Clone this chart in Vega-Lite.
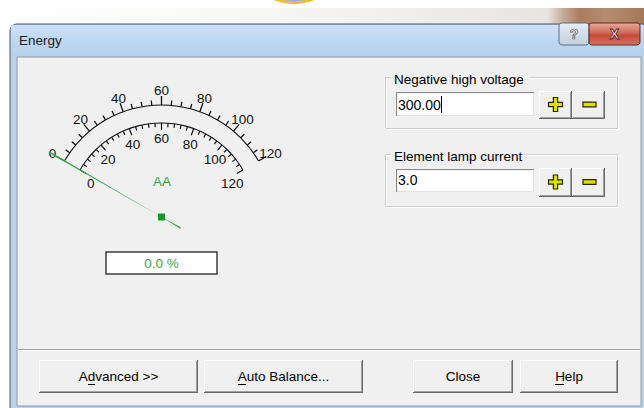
{
"$schema": "https://vega.github.io/schema/vega-lite/v6.json",
"width": 644, "height": 408, "padding": 0, "autosize": "none",
"background": "#ffffff",
"config": {"view": {"stroke": null}, "font": "Liberation Sans"},
"datasets": {
 "state": [{"value": 0, "reading": "0.0 %", "element": "AA", "voltage": "300.00", "lamp": "3.0"}],
 "outerScale": [{"v":0},{"v":5},{"v":10},{"v":15},{"v":20},{"v":25},{"v":30},{"v":35},{"v":40},{"v":45},{"v":50},{"v":55},{"v":60},{"v":65},{"v":70},{"v":75},{"v":80},{"v":85},{"v":90},{"v":95},{"v":100},{"v":105},{"v":110},{"v":115},{"v":120}],
 "innerScale": [{"v":0},{"v":4},{"v":8},{"v":12},{"v":16},{"v":20},{"v":24},{"v":28},{"v":32},{"v":36},{"v":40},{"v":44},{"v":48},{"v":52},{"v":56},{"v":60},{"v":64},{"v":68},{"v":72},{"v":76},{"v":80},{"v":84},{"v":88},{"v":92},{"v":96},{"v":100},{"v":104},{"v":108},{"v":112},{"v":116},{"v":120}]
},
"data": {"name": "state"},
"resolve": {"scale": {"theta": "independent"}},
"layer": [
 {"mark": {"type": "rect", "fill": {"gradient": "linear", "x1": 0, "y1": 0, "x2": 1, "y2": 0, "stops": [{"offset": 0, "color": "#ffffff"}, {"offset": 0.3, "color": "#fafaf9"}, {"offset": 0.6, "color": "#f1f0ee"}, {"offset": 0.85, "color": "#e8e4e0"}, {"offset": 0.875, "color": "#c4ab98"}, {"offset": 0.9, "color": "#a97d60"}, {"offset": 0.94, "color": "#b48c70"}, {"offset": 1, "color": "#a6785a"}]}},
  "encoding": {"x": {"datum": 0, "type": "quantitative", "scale": {"domain": [0,644], "nice": false, "zero": false}, "axis": null}, "x2": {"datum": 644},
   "y": {"datum": 8, "type": "quantitative", "scale": {"domain": [0,408], "nice": false, "zero": false, "reverse": true}, "axis": null}, "y2": {"datum": 24}}},
 {"mark": {"type": "point", "shape": "circle", "size": 9852, "filled": true, "fill": "#a5a6f3", "stroke": "#e7c13e", "strokeWidth": 3, "opacity": 1},
  "encoding": {"x": {"datum": 294, "type": "quantitative", "scale": {"domain": [0,644], "nice": false, "zero": false}, "axis": null},
   "y": {"datum": -47, "type": "quantitative", "scale": {"domain": [0,408], "nice": false, "zero": false, "reverse": true}, "axis": null}}},
 {"mark": {"type": "rect", "fill": "#b9d1ea", "stroke": "#47586b", "strokeWidth": 1, "cornerRadius": 7},
  "encoding": {"x": {"datum": 10, "type": "quantitative", "scale": {"domain": [0,644], "nice": false, "zero": false}, "axis": null}, "x2": {"datum": 660},
   "y": {"datum": 24, "type": "quantitative", "scale": {"domain": [0,408], "nice": false, "zero": false, "reverse": true}, "axis": null}, "y2": {"datum": 420}}},
 {"mark": {"type": "rect", "fill": {"gradient": "linear", "x1": 0, "y1": 0, "x2": 0, "y2": 1, "stops": [{"offset": 0, "color": "#cfe2f6"}, {"offset": 0.5, "color": "#bed6f0"}, {"offset": 1, "color": "#b7d0ec"}]}},
  "encoding": {"x": {"datum": 11, "type": "quantitative", "scale": {"domain": [0,644], "nice": false, "zero": false}, "axis": null}, "x2": {"datum": 643},
   "y": {"datum": 25, "type": "quantitative", "scale": {"domain": [0,408], "nice": false, "zero": false, "reverse": true}, "axis": null}, "y2": {"datum": 57}}},
 {"mark": {"type": "text", "text": "Energy", "align": "left", "baseline": "alphabetic", "fontSize": 13.5, "fill": "#1c1c1c"},
  "encoding": {"x": {"datum": 19, "type": "quantitative", "scale": {"domain": [0,644], "nice": false, "zero": false}, "axis": null},
   "y": {"datum": 45, "type": "quantitative", "scale": {"domain": [0,408], "nice": false, "zero": false, "reverse": true}, "axis": null}}},
 {"mark": {"type": "rect", "fill": {"gradient": "linear", "x1": 0, "y1": 0, "x2": 0, "y2": 1, "stops": [{"offset": 0, "color": "#e6edf5"}, {"offset": 1, "color": "#c2cfdd"}]}, "stroke": "#5c6f86", "strokeWidth": 1, "cornerRadius": 3},
  "encoding": {"x": {"datum": 559, "type": "quantitative", "scale": {"domain": [0,644], "nice": false, "zero": false}, "axis": null}, "x2": {"datum": 589},
   "y": {"datum": 23, "type": "quantitative", "scale": {"domain": [0,408], "nice": false, "zero": false, "reverse": true}, "axis": null}, "y2": {"datum": 45}}},
 {"mark": {"type": "text", "text": "?", "fontSize": 14, "fontWeight": "bold", "fill": "#f7f7f7", "stroke": "#4f5d6d", "strokeWidth": 0.7},
  "encoding": {"x": {"datum": 574, "type": "quantitative", "scale": {"domain": [0,644], "nice": false, "zero": false}, "axis": null},
   "y": {"datum": 35, "type": "quantitative", "scale": {"domain": [0,408], "nice": false, "zero": false, "reverse": true}, "axis": null}}},
 {"mark": {"type": "rect", "fill": {"gradient": "linear", "x1": 0, "y1": 0, "x2": 0, "y2": 1, "stops": [{"offset": 0, "color": "#eaa999"}, {"offset": 0.45, "color": "#d06a58"}, {"offset": 0.55, "color": "#c34a38"}, {"offset": 1, "color": "#d8705c"}]}, "stroke": "#5b2a24", "strokeWidth": 1, "cornerRadius": 3},
  "encoding": {"x": {"datum": 589, "type": "quantitative", "scale": {"domain": [0,644], "nice": false, "zero": false}, "axis": null}, "x2": {"datum": 640},
   "y": {"datum": 23, "type": "quantitative", "scale": {"domain": [0,408], "nice": false, "zero": false, "reverse": true}, "axis": null}, "y2": {"datum": 45}}},
 {"mark": {"type": "text", "text": "X", "fontSize": 14, "fontWeight": "bold", "fill": "#ffffff", "stroke": "#4a1e1e", "strokeWidth": 0.8},
  "encoding": {"x": {"datum": 614.5, "type": "quantitative", "scale": {"domain": [0,644], "nice": false, "zero": false}, "axis": null},
   "y": {"datum": 35, "type": "quantitative", "scale": {"domain": [0,408], "nice": false, "zero": false, "reverse": true}, "axis": null}}},
 {"mark": {"type": "rect", "fill": "#f0f0f0", "stroke": "#8f9aa6", "strokeWidth": 1},
  "encoding": {"x": {"datum": 17, "type": "quantitative", "scale": {"domain": [0,644], "nice": false, "zero": false}, "axis": null}, "x2": {"datum": 641},
   "y": {"datum": 57, "type": "quantitative", "scale": {"domain": [0,408], "nice": false, "zero": false, "reverse": true}, "axis": null}, "y2": {"datum": 406}}},
 {"mark": {"type": "rule", "stroke": "#a0a0a0", "strokeWidth": 1},
  "encoding": {"x": {"datum": 18, "type": "quantitative", "scale": {"domain": [0,644], "nice": false, "zero": false}, "axis": null}, "x2": {"datum": 640},
   "y": {"datum": 349.5, "type": "quantitative", "scale": {"domain": [0,408], "nice": false, "zero": false, "reverse": true}, "axis": null}}},
 {"mark": {"type": "rule", "stroke": "#ffffff", "strokeWidth": 1},
  "encoding": {"x": {"datum": 18, "type": "quantitative", "scale": {"domain": [0,644], "nice": false, "zero": false}, "axis": null}, "x2": {"datum": 640},
   "y": {"datum": 350.5, "type": "quantitative", "scale": {"domain": [0,408], "nice": false, "zero": false, "reverse": true}, "axis": null}}},

 {"mark": {"type": "arc", "innerRadius": 111.5, "outerRadius": 112.6, "fill": "#111111"},
  "encoding": {"x": {"datum": 161.5, "type": "quantitative", "scale": {"domain": [0,644], "nice": false, "zero": false}, "axis": null},
   "y": {"datum": 217, "type": "quantitative", "scale": {"domain": [0,408], "nice": false, "zero": false, "reverse": true}, "axis": null},
   "theta": {"datum": 0, "type": "quantitative", "scale": {"domain": [0,120], "range": [-1.0472, 1.0472]}}, "theta2": {"datum": 120}}},
 {"data": {"name": "outerScale"}, "transform": [{"filter": "datum.v % 20 === 0"}],
  "mark": {"type": "arc", "innerRadius": 112, "outerRadius": 121, "thetaOffset": -0.0055, "theta2Offset": 0.0055, "fill": "#111111"},
  "encoding": {"x": {"datum": 161.5, "type": "quantitative", "scale": {"domain": [0,644], "nice": false, "zero": false}, "axis": null},
   "y": {"datum": 217, "type": "quantitative", "scale": {"domain": [0,408], "nice": false, "zero": false, "reverse": true}, "axis": null},
   "theta": {"field": "v", "type": "quantitative", "stack": null, "scale": {"domain": [0,120], "range": [-1.0472, 1.0472]}}, "theta2": {"field": "v"}}},
 {"data": {"name": "outerScale"}, "transform": [{"filter": "datum.v % 20 !== 0"}],
  "mark": {"type": "arc", "innerRadius": 112, "outerRadius": 117, "thetaOffset": -0.0055, "theta2Offset": 0.0055, "fill": "#111111"},
  "encoding": {"x": {"datum": 161.5, "type": "quantitative", "scale": {"domain": [0,644], "nice": false, "zero": false}, "axis": null},
   "y": {"datum": 217, "type": "quantitative", "scale": {"domain": [0,408], "nice": false, "zero": false, "reverse": true}, "axis": null},
   "theta": {"field": "v", "type": "quantitative", "stack": null, "scale": {"domain": [0,120], "range": [-1.0472, 1.0472]}}, "theta2": {"field": "v"}}},
 {"mark": {"type": "arc", "innerRadius": 93.5, "outerRadius": 94.6, "fill": "#111111"},
  "encoding": {"x": {"datum": 161.5, "type": "quantitative", "scale": {"domain": [0,644], "nice": false, "zero": false}, "axis": null},
   "y": {"datum": 217, "type": "quantitative", "scale": {"domain": [0,408], "nice": false, "zero": false, "reverse": true}, "axis": null},
   "theta": {"datum": 0, "type": "quantitative", "scale": {"domain": [0,120], "range": [-1.0472, 1.0472]}}, "theta2": {"datum": 120}}},
 {"data": {"name": "innerScale"}, "transform": [{"filter": "datum.v % 20 === 0"}],
  "mark": {"type": "arc", "innerRadius": 87, "outerRadius": 94, "thetaOffset": -0.0065, "theta2Offset": 0.0065, "fill": "#111111"},
  "encoding": {"x": {"datum": 161.5, "type": "quantitative", "scale": {"domain": [0,644], "nice": false, "zero": false}, "axis": null},
   "y": {"datum": 217, "type": "quantitative", "scale": {"domain": [0,408], "nice": false, "zero": false, "reverse": true}, "axis": null},
   "theta": {"field": "v", "type": "quantitative", "stack": null, "scale": {"domain": [0,120], "range": [-1.0472, 1.0472]}}, "theta2": {"field": "v"}}},
 {"data": {"name": "innerScale"}, "transform": [{"filter": "datum.v % 20 !== 0"}],
  "mark": {"type": "arc", "innerRadius": 90, "outerRadius": 94, "thetaOffset": -0.0065, "theta2Offset": 0.0065, "fill": "#111111"},
  "encoding": {"x": {"datum": 161.5, "type": "quantitative", "scale": {"domain": [0,644], "nice": false, "zero": false}, "axis": null},
   "y": {"datum": 217, "type": "quantitative", "scale": {"domain": [0,408], "nice": false, "zero": false, "reverse": true}, "axis": null},
   "theta": {"field": "v", "type": "quantitative", "stack": null, "scale": {"domain": [0,120], "range": [-1.0472, 1.0472]}}, "theta2": {"field": "v"}}},
 {"data": {"name": "outerScale"}, "transform": [{"filter": "datum.v % 20 === 0"}],
  "mark": {"type": "text", "radius": 126, "fontSize": 13.5, "fill": "#111111", "align": "center", "baseline": "middle"},
  "encoding": {"x": {"datum": 161.5, "type": "quantitative", "scale": {"domain": [0,644], "nice": false, "zero": false}, "axis": null},
   "y": {"datum": 217, "type": "quantitative", "scale": {"domain": [0,408], "nice": false, "zero": false, "reverse": true}, "axis": null},
   "theta": {"field": "v", "type": "quantitative", "stack": null, "scale": {"domain": [0,120], "range": [-1.0472, 1.0472]}},
   "text": {"field": "v", "type": "quantitative"}}},
 {"data": {"name": "innerScale"}, "transform": [{"filter": "datum.v % 20 === 0"}],
  "mark": {"type": "text", "radius": 78, "fontSize": 13.5, "fill": "#111111", "align": "center", "baseline": "middle"},
  "encoding": {"x": {"datum": 161.5, "type": "quantitative", "scale": {"domain": [0,644], "nice": false, "zero": false}, "axis": null},
   "y": {"datum": 217, "type": "quantitative", "scale": {"domain": [0,408], "nice": false, "zero": false, "reverse": true}, "axis": null},
   "theta": {"field": "v", "type": "quantitative", "stack": null, "scale": {"domain": [0,120], "range": [-1.1345, 1.1345]}},
   "text": {"field": "v", "type": "quantitative"}}},
 {"mark": {"type": "text", "fontSize": 13.5, "fill": "#33aa44", "align": "center", "baseline": "middle"},
  "encoding": {"x": {"datum": 162, "type": "quantitative", "scale": {"domain": [0,644], "nice": false, "zero": false}, "axis": null},
   "y": {"datum": 182, "type": "quantitative", "scale": {"domain": [0,408], "nice": false, "zero": false, "reverse": true}, "axis": null},
   "text": {"field": "element", "type": "nominal"}}},
 {"mark": {"type": "arc", "innerRadius": 0, "outerRadius": 130, "thetaOffset": -0.0065, "theta2Offset": 0.0065, "fill": "#35a845"},
  "encoding": {"x": {"datum": 161.5, "type": "quantitative", "scale": {"domain": [0,644], "nice": false, "zero": false}, "axis": null},
   "y": {"datum": 217, "type": "quantitative", "scale": {"domain": [0,408], "nice": false, "zero": false, "reverse": true}, "axis": null},
   "theta": {"field": "value", "type": "quantitative", "stack": null, "scale": {"domain": [0,120], "range": [-1.0472, 1.0472]}}, "theta2": {"field": "value"}}},
 {"mark": {"type": "arc", "innerRadius": 0, "outerRadius": 22, "thetaOffset": 3.1066, "theta2Offset": 3.1766, "fill": "#35a845"},
  "encoding": {"x": {"datum": 161.5, "type": "quantitative", "scale": {"domain": [0,644], "nice": false, "zero": false}, "axis": null},
   "y": {"datum": 217, "type": "quantitative", "scale": {"domain": [0,408], "nice": false, "zero": false, "reverse": true}, "axis": null},
   "theta": {"field": "value", "type": "quantitative", "stack": null, "scale": {"domain": [0,120], "range": [-1.0472, 1.0472]}}, "theta2": {"field": "value"}}},
 {"mark": {"type": "point", "shape": "square", "size": 49, "filled": true, "fill": "#119a28", "opacity": 1},
  "encoding": {"x": {"datum": 161.5, "type": "quantitative", "scale": {"domain": [0,644], "nice": false, "zero": false}, "axis": null},
   "y": {"datum": 217, "type": "quantitative", "scale": {"domain": [0,408], "nice": false, "zero": false, "reverse": true}, "axis": null}}},
 {"mark": {"type": "rect", "fill": "#ffffff", "stroke": "#3c3c3c", "strokeWidth": 1.5},
  "encoding": {"x": {"datum": 106, "type": "quantitative", "scale": {"domain": [0,644], "nice": false, "zero": false}, "axis": null}, "x2": {"datum": 217},
   "y": {"datum": 252, "type": "quantitative", "scale": {"domain": [0,408], "nice": false, "zero": false, "reverse": true}, "axis": null}, "y2": {"datum": 274}}},
 {"mark": {"type": "text", "fontSize": 13.5, "fill": "#33aa44", "align": "center", "baseline": "middle"},
  "encoding": {"x": {"datum": 161.5, "type": "quantitative", "scale": {"domain": [0,644], "nice": false, "zero": false}, "axis": null},
   "y": {"datum": 263.5, "type": "quantitative", "scale": {"domain": [0,408], "nice": false, "zero": false, "reverse": true}, "axis": null},
   "text": {"field": "reading", "type": "nominal"}}},

 {"mark": {"type": "rect", "fillOpacity": 0, "stroke": "#ffffff", "strokeWidth": 1},
  "encoding": {"x": {"datum": 386.5, "type": "quantitative", "scale": {"domain": [0,644], "nice": false, "zero": false}, "axis": null}, "x2": {"datum": 618.5},
   "y": {"datum": 78.5, "type": "quantitative", "scale": {"domain": [0,408], "nice": false, "zero": false, "reverse": true}, "axis": null}, "y2": {"datum": 129.5}}},
 {"mark": {"type": "rect", "fillOpacity": 0, "stroke": "#c9ced3", "strokeWidth": 1},
  "encoding": {"x": {"datum": 385.5, "type": "quantitative", "scale": {"domain": [0,644], "nice": false, "zero": false}, "axis": null}, "x2": {"datum": 617.5},
   "y": {"datum": 77.5, "type": "quantitative", "scale": {"domain": [0,408], "nice": false, "zero": false, "reverse": true}, "axis": null}, "y2": {"datum": 128.5}}},
 {"mark": {"type": "rect", "fill": "#f0f0f0"},
  "encoding": {"x": {"datum": 391, "type": "quantitative", "scale": {"domain": [0,644], "nice": false, "zero": false}, "axis": null}, "x2": {"datum": 529},
   "y": {"datum": 70, "type": "quantitative", "scale": {"domain": [0,408], "nice": false, "zero": false, "reverse": true}, "axis": null}, "y2": {"datum": 82}}},
 {"mark": {"type": "text", "text": "Negative high voltage", "align": "left", "baseline": "alphabetic", "fontSize": 13.5, "fill": "#000000"},
  "encoding": {"x": {"datum": 394, "type": "quantitative", "scale": {"domain": [0,644], "nice": false, "zero": false}, "axis": null},
   "y": {"datum": 84, "type": "quantitative", "scale": {"domain": [0,408], "nice": false, "zero": false, "reverse": true}, "axis": null}}},
 {"mark": {"type": "rect", "fill": "#8a8a8a"},
  "encoding": {"x": {"datum": 396, "type": "quantitative", "scale": {"domain": [0,644], "nice": false, "zero": false}, "axis": null}, "x2": {"datum": 534},
   "y": {"datum": 92, "type": "quantitative", "scale": {"domain": [0,408], "nice": false, "zero": false, "reverse": true}, "axis": null}, "y2": {"datum": 116}}},
 {"mark": {"type": "rect", "fill": "#e3e3e3"},
  "encoding": {"x": {"datum": 397, "type": "quantitative", "scale": {"domain": [0,644], "nice": false, "zero": false}, "axis": null}, "x2": {"datum": 534},
   "y": {"datum": 93, "type": "quantitative", "scale": {"domain": [0,408], "nice": false, "zero": false, "reverse": true}, "axis": null}, "y2": {"datum": 116}}},
 {"mark": {"type": "rect", "fill": "#ffffff"},
  "encoding": {"x": {"datum": 397.5, "type": "quantitative", "scale": {"domain": [0,644], "nice": false, "zero": false}, "axis": null}, "x2": {"datum": 533},
   "y": {"datum": 93.5, "type": "quantitative", "scale": {"domain": [0,408], "nice": false, "zero": false, "reverse": true}, "axis": null}, "y2": {"datum": 115}}},
 {"mark": {"type": "text", "align": "left", "baseline": "alphabetic", "fontSize": 14, "fill": "#000000"},
  "encoding": {"x": {"datum": 398, "type": "quantitative", "scale": {"domain": [0,644], "nice": false, "zero": false}, "axis": null},
   "y": {"datum": 110, "type": "quantitative", "scale": {"domain": [0,408], "nice": false, "zero": false, "reverse": true}, "axis": null},
   "text": {"field": "voltage", "type": "nominal"}}},
 {"mark": {"type": "rule", "stroke": "#000000", "strokeWidth": 1},
  "encoding": {"x": {"datum": 441.5, "type": "quantitative", "scale": {"domain": [0,644], "nice": false, "zero": false}, "axis": null},
   "y": {"datum": 96, "type": "quantitative", "scale": {"domain": [0,408], "nice": false, "zero": false, "reverse": true}, "axis": null}, "y2": {"datum": 113}}},

 {"mark": {"type": "rect", "fillOpacity": 0, "stroke": "#ffffff", "strokeWidth": 1},
  "encoding": {"x": {"datum": 386.5, "type": "quantitative", "scale": {"domain": [0,644], "nice": false, "zero": false}, "axis": null}, "x2": {"datum": 618.5},
   "y": {"datum": 155.5, "type": "quantitative", "scale": {"domain": [0,408], "nice": false, "zero": false, "reverse": true}, "axis": null}, "y2": {"datum": 207.5}}},
 {"mark": {"type": "rect", "fillOpacity": 0, "stroke": "#c9ced3", "strokeWidth": 1},
  "encoding": {"x": {"datum": 385.5, "type": "quantitative", "scale": {"domain": [0,644], "nice": false, "zero": false}, "axis": null}, "x2": {"datum": 617.5},
   "y": {"datum": 154.5, "type": "quantitative", "scale": {"domain": [0,408], "nice": false, "zero": false, "reverse": true}, "axis": null}, "y2": {"datum": 206.5}}},
 {"mark": {"type": "rect", "fill": "#f0f0f0"},
  "encoding": {"x": {"datum": 391, "type": "quantitative", "scale": {"domain": [0,644], "nice": false, "zero": false}, "axis": null}, "x2": {"datum": 520},
   "y": {"datum": 147, "type": "quantitative", "scale": {"domain": [0,408], "nice": false, "zero": false, "reverse": true}, "axis": null}, "y2": {"datum": 159}}},
 {"mark": {"type": "text", "text": "Element lamp current", "align": "left", "baseline": "alphabetic", "fontSize": 13.5, "fill": "#000000"},
  "encoding": {"x": {"datum": 394, "type": "quantitative", "scale": {"domain": [0,644], "nice": false, "zero": false}, "axis": null},
   "y": {"datum": 160.5, "type": "quantitative", "scale": {"domain": [0,408], "nice": false, "zero": false, "reverse": true}, "axis": null}}},
 {"mark": {"type": "rect", "fill": "#8a8a8a"},
  "encoding": {"x": {"datum": 396, "type": "quantitative", "scale": {"domain": [0,644], "nice": false, "zero": false}, "axis": null}, "x2": {"datum": 534},
   "y": {"datum": 169, "type": "quantitative", "scale": {"domain": [0,408], "nice": false, "zero": false, "reverse": true}, "axis": null}, "y2": {"datum": 192}}},
 {"mark": {"type": "rect", "fill": "#e3e3e3"},
  "encoding": {"x": {"datum": 397, "type": "quantitative", "scale": {"domain": [0,644], "nice": false, "zero": false}, "axis": null}, "x2": {"datum": 534},
   "y": {"datum": 170, "type": "quantitative", "scale": {"domain": [0,408], "nice": false, "zero": false, "reverse": true}, "axis": null}, "y2": {"datum": 192}}},
 {"mark": {"type": "rect", "fill": "#ffffff"},
  "encoding": {"x": {"datum": 397.5, "type": "quantitative", "scale": {"domain": [0,644], "nice": false, "zero": false}, "axis": null}, "x2": {"datum": 533},
   "y": {"datum": 170.5, "type": "quantitative", "scale": {"domain": [0,408], "nice": false, "zero": false, "reverse": true}, "axis": null}, "y2": {"datum": 191}}},
 {"mark": {"type": "text", "align": "left", "baseline": "alphabetic", "fontSize": 14, "fill": "#000000"},
  "encoding": {"x": {"datum": 398, "type": "quantitative", "scale": {"domain": [0,644], "nice": false, "zero": false}, "axis": null},
   "y": {"datum": 185, "type": "quantitative", "scale": {"domain": [0,408], "nice": false, "zero": false, "reverse": true}, "axis": null},
   "text": {"field": "lamp", "type": "nominal"}}},

 {"mark": {"type": "rect", "fill": "#696969"}, "encoding": {"x": {"datum": 539, "type": "quantitative", "scale": {"domain": [0,644], "nice": false, "zero": false}, "axis": null}, "x2": {"datum": 572}, "y": {"datum": 91, "type": "quantitative", "scale": {"domain": [0,408], "nice": false, "zero": false, "reverse": true}, "axis": null}, "y2": {"datum": 119}}},
 {"mark": {"type": "rect", "fill": "#ffffff"}, "encoding": {"x": {"datum": 539, "type": "quantitative", "scale": {"domain": [0,644], "nice": false, "zero": false}, "axis": null}, "x2": {"datum": 571}, "y": {"datum": 91, "type": "quantitative", "scale": {"domain": [0,408], "nice": false, "zero": false, "reverse": true}, "axis": null}, "y2": {"datum": 118}}},
 {"mark": {"type": "rect", "fill": "#a0a0a0"}, "encoding": {"x": {"datum": 540, "type": "quantitative", "scale": {"domain": [0,644], "nice": false, "zero": false}, "axis": null}, "x2": {"datum": 571}, "y": {"datum": 92, "type": "quantitative", "scale": {"domain": [0,408], "nice": false, "zero": false, "reverse": true}, "axis": null}, "y2": {"datum": 118}}},
 {"mark": {"type": "rect", "fill": "#f0f0f0"}, "encoding": {"x": {"datum": 540, "type": "quantitative", "scale": {"domain": [0,644], "nice": false, "zero": false}, "axis": null}, "x2": {"datum": 570}, "y": {"datum": 92, "type": "quantitative", "scale": {"domain": [0,408], "nice": false, "zero": false, "reverse": true}, "axis": null}, "y2": {"datum": 117}}},
 {"mark": {"type": "rect", "fill": "#696969"}, "encoding": {"x": {"datum": 572, "type": "quantitative", "scale": {"domain": [0,644], "nice": false, "zero": false}, "axis": null}, "x2": {"datum": 605}, "y": {"datum": 91, "type": "quantitative", "scale": {"domain": [0,408], "nice": false, "zero": false, "reverse": true}, "axis": null}, "y2": {"datum": 119}}},
 {"mark": {"type": "rect", "fill": "#ffffff"}, "encoding": {"x": {"datum": 572, "type": "quantitative", "scale": {"domain": [0,644], "nice": false, "zero": false}, "axis": null}, "x2": {"datum": 604}, "y": {"datum": 91, "type": "quantitative", "scale": {"domain": [0,408], "nice": false, "zero": false, "reverse": true}, "axis": null}, "y2": {"datum": 118}}},
 {"mark": {"type": "rect", "fill": "#a0a0a0"}, "encoding": {"x": {"datum": 573, "type": "quantitative", "scale": {"domain": [0,644], "nice": false, "zero": false}, "axis": null}, "x2": {"datum": 604}, "y": {"datum": 92, "type": "quantitative", "scale": {"domain": [0,408], "nice": false, "zero": false, "reverse": true}, "axis": null}, "y2": {"datum": 118}}},
 {"mark": {"type": "rect", "fill": "#f0f0f0"}, "encoding": {"x": {"datum": 573, "type": "quantitative", "scale": {"domain": [0,644], "nice": false, "zero": false}, "axis": null}, "x2": {"datum": 603}, "y": {"datum": 92, "type": "quantitative", "scale": {"domain": [0,408], "nice": false, "zero": false, "reverse": true}, "axis": null}, "y2": {"datum": 117}}},
 {"mark": {"type": "point", "shape": "M-0.3,-1H0.3V-0.3H1V0.3H0.3V1H-0.3V0.3H-1V-0.3H-0.3Z", "size": 196, "filled": true, "fill": "#dede00", "stroke": "#262600", "strokeWidth": 1.2, "opacity": 1},
  "encoding": {"x": {"datum": 555.5, "type": "quantitative", "scale": {"domain": [0,644], "nice": false, "zero": false}, "axis": null}, "y": {"datum": 104.5, "type": "quantitative", "scale": {"domain": [0,408], "nice": false, "zero": false, "reverse": true}, "axis": null}}},
 {"mark": {"type": "point", "shape": "M-1,-0.36H1V0.36H-1Z", "size": 169, "filled": true, "fill": "#dede00", "stroke": "#262600", "strokeWidth": 1.2, "opacity": 1},
  "encoding": {"x": {"datum": 589.5, "type": "quantitative", "scale": {"domain": [0,644], "nice": false, "zero": false}, "axis": null}, "y": {"datum": 104.5, "type": "quantitative", "scale": {"domain": [0,408], "nice": false, "zero": false, "reverse": true}, "axis": null}}},

 {"mark": {"type": "rect", "fill": "#696969"}, "encoding": {"x": {"datum": 539, "type": "quantitative", "scale": {"domain": [0,644], "nice": false, "zero": false}, "axis": null}, "x2": {"datum": 572}, "y": {"datum": 168, "type": "quantitative", "scale": {"domain": [0,408], "nice": false, "zero": false, "reverse": true}, "axis": null}, "y2": {"datum": 197}}},
 {"mark": {"type": "rect", "fill": "#ffffff"}, "encoding": {"x": {"datum": 539, "type": "quantitative", "scale": {"domain": [0,644], "nice": false, "zero": false}, "axis": null}, "x2": {"datum": 571}, "y": {"datum": 168, "type": "quantitative", "scale": {"domain": [0,408], "nice": false, "zero": false, "reverse": true}, "axis": null}, "y2": {"datum": 196}}},
 {"mark": {"type": "rect", "fill": "#a0a0a0"}, "encoding": {"x": {"datum": 540, "type": "quantitative", "scale": {"domain": [0,644], "nice": false, "zero": false}, "axis": null}, "x2": {"datum": 571}, "y": {"datum": 169, "type": "quantitative", "scale": {"domain": [0,408], "nice": false, "zero": false, "reverse": true}, "axis": null}, "y2": {"datum": 196}}},
 {"mark": {"type": "rect", "fill": "#f0f0f0"}, "encoding": {"x": {"datum": 540, "type": "quantitative", "scale": {"domain": [0,644], "nice": false, "zero": false}, "axis": null}, "x2": {"datum": 570}, "y": {"datum": 169, "type": "quantitative", "scale": {"domain": [0,408], "nice": false, "zero": false, "reverse": true}, "axis": null}, "y2": {"datum": 195}}},
 {"mark": {"type": "rect", "fill": "#696969"}, "encoding": {"x": {"datum": 572, "type": "quantitative", "scale": {"domain": [0,644], "nice": false, "zero": false}, "axis": null}, "x2": {"datum": 605}, "y": {"datum": 168, "type": "quantitative", "scale": {"domain": [0,408], "nice": false, "zero": false, "reverse": true}, "axis": null}, "y2": {"datum": 197}}},
 {"mark": {"type": "rect", "fill": "#ffffff"}, "encoding": {"x": {"datum": 572, "type": "quantitative", "scale": {"domain": [0,644], "nice": false, "zero": false}, "axis": null}, "x2": {"datum": 604}, "y": {"datum": 168, "type": "quantitative", "scale": {"domain": [0,408], "nice": false, "zero": false, "reverse": true}, "axis": null}, "y2": {"datum": 196}}},
 {"mark": {"type": "rect", "fill": "#a0a0a0"}, "encoding": {"x": {"datum": 573, "type": "quantitative", "scale": {"domain": [0,644], "nice": false, "zero": false}, "axis": null}, "x2": {"datum": 604}, "y": {"datum": 169, "type": "quantitative", "scale": {"domain": [0,408], "nice": false, "zero": false, "reverse": true}, "axis": null}, "y2": {"datum": 196}}},
 {"mark": {"type": "rect", "fill": "#f0f0f0"}, "encoding": {"x": {"datum": 573, "type": "quantitative", "scale": {"domain": [0,644], "nice": false, "zero": false}, "axis": null}, "x2": {"datum": 603}, "y": {"datum": 169, "type": "quantitative", "scale": {"domain": [0,408], "nice": false, "zero": false, "reverse": true}, "axis": null}, "y2": {"datum": 195}}},
 {"mark": {"type": "point", "shape": "M-0.3,-1H0.3V-0.3H1V0.3H0.3V1H-0.3V0.3H-1V-0.3H-0.3Z", "size": 196, "filled": true, "fill": "#dede00", "stroke": "#262600", "strokeWidth": 1.2, "opacity": 1},
  "encoding": {"x": {"datum": 555.5, "type": "quantitative", "scale": {"domain": [0,644], "nice": false, "zero": false}, "axis": null}, "y": {"datum": 182, "type": "quantitative", "scale": {"domain": [0,408], "nice": false, "zero": false, "reverse": true}, "axis": null}}},
 {"mark": {"type": "point", "shape": "M-1,-0.36H1V0.36H-1Z", "size": 169, "filled": true, "fill": "#dede00", "stroke": "#262600", "strokeWidth": 1.2, "opacity": 1},
  "encoding": {"x": {"datum": 589.5, "type": "quantitative", "scale": {"domain": [0,644], "nice": false, "zero": false}, "axis": null}, "y": {"datum": 182, "type": "quantitative", "scale": {"domain": [0,408], "nice": false, "zero": false, "reverse": true}, "axis": null}}},

 {"mark": {"type": "rect", "fill": "#696969"}, "encoding": {"x": {"datum": 39, "type": "quantitative", "scale": {"domain": [0,644], "nice": false, "zero": false}, "axis": null}, "x2": {"datum": 198}, "y": {"datum": 360, "type": "quantitative", "scale": {"domain": [0,408], "nice": false, "zero": false, "reverse": true}, "axis": null}, "y2": {"datum": 393}}},
 {"mark": {"type": "rect", "fill": "#ffffff"}, "encoding": {"x": {"datum": 39, "type": "quantitative", "scale": {"domain": [0,644], "nice": false, "zero": false}, "axis": null}, "x2": {"datum": 197}, "y": {"datum": 360, "type": "quantitative", "scale": {"domain": [0,408], "nice": false, "zero": false, "reverse": true}, "axis": null}, "y2": {"datum": 392}}},
 {"mark": {"type": "rect", "fill": "#a0a0a0"}, "encoding": {"x": {"datum": 40, "type": "quantitative", "scale": {"domain": [0,644], "nice": false, "zero": false}, "axis": null}, "x2": {"datum": 197}, "y": {"datum": 361, "type": "quantitative", "scale": {"domain": [0,408], "nice": false, "zero": false, "reverse": true}, "axis": null}, "y2": {"datum": 392}}},
 {"mark": {"type": "rect", "fill": "#f0f0f0"}, "encoding": {"x": {"datum": 40, "type": "quantitative", "scale": {"domain": [0,644], "nice": false, "zero": false}, "axis": null}, "x2": {"datum": 196}, "y": {"datum": 361, "type": "quantitative", "scale": {"domain": [0,408], "nice": false, "zero": false, "reverse": true}, "axis": null}, "y2": {"datum": 391}}},
 {"mark": {"type": "rect", "fill": "#696969"}, "encoding": {"x": {"datum": 204, "type": "quantitative", "scale": {"domain": [0,644], "nice": false, "zero": false}, "axis": null}, "x2": {"datum": 363}, "y": {"datum": 360, "type": "quantitative", "scale": {"domain": [0,408], "nice": false, "zero": false, "reverse": true}, "axis": null}, "y2": {"datum": 393}}},
 {"mark": {"type": "rect", "fill": "#ffffff"}, "encoding": {"x": {"datum": 204, "type": "quantitative", "scale": {"domain": [0,644], "nice": false, "zero": false}, "axis": null}, "x2": {"datum": 362}, "y": {"datum": 360, "type": "quantitative", "scale": {"domain": [0,408], "nice": false, "zero": false, "reverse": true}, "axis": null}, "y2": {"datum": 392}}},
 {"mark": {"type": "rect", "fill": "#a0a0a0"}, "encoding": {"x": {"datum": 205, "type": "quantitative", "scale": {"domain": [0,644], "nice": false, "zero": false}, "axis": null}, "x2": {"datum": 362}, "y": {"datum": 361, "type": "quantitative", "scale": {"domain": [0,408], "nice": false, "zero": false, "reverse": true}, "axis": null}, "y2": {"datum": 392}}},
 {"mark": {"type": "rect", "fill": "#f0f0f0"}, "encoding": {"x": {"datum": 205, "type": "quantitative", "scale": {"domain": [0,644], "nice": false, "zero": false}, "axis": null}, "x2": {"datum": 361}, "y": {"datum": 361, "type": "quantitative", "scale": {"domain": [0,408], "nice": false, "zero": false, "reverse": true}, "axis": null}, "y2": {"datum": 391}}},
 {"mark": {"type": "rect", "fill": "#696969"}, "encoding": {"x": {"datum": 413, "type": "quantitative", "scale": {"domain": [0,644], "nice": false, "zero": false}, "axis": null}, "x2": {"datum": 513}, "y": {"datum": 360, "type": "quantitative", "scale": {"domain": [0,408], "nice": false, "zero": false, "reverse": true}, "axis": null}, "y2": {"datum": 393}}},
 {"mark": {"type": "rect", "fill": "#ffffff"}, "encoding": {"x": {"datum": 413, "type": "quantitative", "scale": {"domain": [0,644], "nice": false, "zero": false}, "axis": null}, "x2": {"datum": 512}, "y": {"datum": 360, "type": "quantitative", "scale": {"domain": [0,408], "nice": false, "zero": false, "reverse": true}, "axis": null}, "y2": {"datum": 392}}},
 {"mark": {"type": "rect", "fill": "#a0a0a0"}, "encoding": {"x": {"datum": 414, "type": "quantitative", "scale": {"domain": [0,644], "nice": false, "zero": false}, "axis": null}, "x2": {"datum": 512}, "y": {"datum": 361, "type": "quantitative", "scale": {"domain": [0,408], "nice": false, "zero": false, "reverse": true}, "axis": null}, "y2": {"datum": 392}}},
 {"mark": {"type": "rect", "fill": "#f0f0f0"}, "encoding": {"x": {"datum": 414, "type": "quantitative", "scale": {"domain": [0,644], "nice": false, "zero": false}, "axis": null}, "x2": {"datum": 511}, "y": {"datum": 361, "type": "quantitative", "scale": {"domain": [0,408], "nice": false, "zero": false, "reverse": true}, "axis": null}, "y2": {"datum": 391}}},
 {"mark": {"type": "rect", "fill": "#696969"}, "encoding": {"x": {"datum": 520, "type": "quantitative", "scale": {"domain": [0,644], "nice": false, "zero": false}, "axis": null}, "x2": {"datum": 618}, "y": {"datum": 360, "type": "quantitative", "scale": {"domain": [0,408], "nice": false, "zero": false, "reverse": true}, "axis": null}, "y2": {"datum": 393}}},
 {"mark": {"type": "rect", "fill": "#ffffff"}, "encoding": {"x": {"datum": 520, "type": "quantitative", "scale": {"domain": [0,644], "nice": false, "zero": false}, "axis": null}, "x2": {"datum": 617}, "y": {"datum": 360, "type": "quantitative", "scale": {"domain": [0,408], "nice": false, "zero": false, "reverse": true}, "axis": null}, "y2": {"datum": 392}}},
 {"mark": {"type": "rect", "fill": "#a0a0a0"}, "encoding": {"x": {"datum": 521, "type": "quantitative", "scale": {"domain": [0,644], "nice": false, "zero": false}, "axis": null}, "x2": {"datum": 617}, "y": {"datum": 361, "type": "quantitative", "scale": {"domain": [0,408], "nice": false, "zero": false, "reverse": true}, "axis": null}, "y2": {"datum": 392}}},
 {"mark": {"type": "rect", "fill": "#f0f0f0"}, "encoding": {"x": {"datum": 521, "type": "quantitative", "scale": {"domain": [0,644], "nice": false, "zero": false}, "axis": null}, "x2": {"datum": 616}, "y": {"datum": 361, "type": "quantitative", "scale": {"domain": [0,408], "nice": false, "zero": false, "reverse": true}, "axis": null}, "y2": {"datum": 391}}},
 {"mark": {"type": "text", "text": "Advanced >>", "fontSize": 13.5, "fill": "#000000", "align": "center", "baseline": "middle"},
  "encoding": {"x": {"datum": 118.5, "type": "quantitative", "scale": {"domain": [0,644], "nice": false, "zero": false}, "axis": null}, "y": {"datum": 377, "type": "quantitative", "scale": {"domain": [0,408], "nice": false, "zero": false, "reverse": true}, "axis": null}}},
 {"mark": {"type": "text", "text": "Auto Balance...", "fontSize": 13.5, "fill": "#000000", "align": "center", "baseline": "middle"},
  "encoding": {"x": {"datum": 283.5, "type": "quantitative", "scale": {"domain": [0,644], "nice": false, "zero": false}, "axis": null}, "y": {"datum": 377, "type": "quantitative", "scale": {"domain": [0,408], "nice": false, "zero": false, "reverse": true}, "axis": null}}},
 {"mark": {"type": "text", "text": "Close", "fontSize": 13.5, "fill": "#000000", "align": "center", "baseline": "middle"},
  "encoding": {"x": {"datum": 463, "type": "quantitative", "scale": {"domain": [0,644], "nice": false, "zero": false}, "axis": null}, "y": {"datum": 377, "type": "quantitative", "scale": {"domain": [0,408], "nice": false, "zero": false, "reverse": true}, "axis": null}}},
 {"mark": {"type": "text", "text": "Help", "fontSize": 13.5, "fill": "#000000", "align": "center", "baseline": "middle"},
  "encoding": {"x": {"datum": 569, "type": "quantitative", "scale": {"domain": [0,644], "nice": false, "zero": false}, "axis": null}, "y": {"datum": 377, "type": "quantitative", "scale": {"domain": [0,408], "nice": false, "zero": false, "reverse": true}, "axis": null}}},
 {"mark": {"type": "rule", "stroke": "#000000", "strokeWidth": 1},
  "encoding": {"x": {"datum": 88, "type": "quantitative", "scale": {"domain": [0,644], "nice": false, "zero": false}, "axis": null}, "x2": {"datum": 95}, "y": {"datum": 384.5, "type": "quantitative", "scale": {"domain": [0,408], "nice": false, "zero": false, "reverse": true}, "axis": null}}},
 {"mark": {"type": "rule", "stroke": "#000000", "strokeWidth": 1},
  "encoding": {"x": {"datum": 238, "type": "quantitative", "scale": {"domain": [0,644], "nice": false, "zero": false}, "axis": null}, "x2": {"datum": 246}, "y": {"datum": 384.5, "type": "quantitative", "scale": {"domain": [0,408], "nice": false, "zero": false, "reverse": true}, "axis": null}}},
 {"mark": {"type": "rule", "stroke": "#000000", "strokeWidth": 1},
  "encoding": {"x": {"datum": 555, "type": "quantitative", "scale": {"domain": [0,644], "nice": false, "zero": false}, "axis": null}, "x2": {"datum": 564}, "y": {"datum": 384.5, "type": "quantitative", "scale": {"domain": [0,408], "nice": false, "zero": false, "reverse": true}, "axis": null}}}
]
}
